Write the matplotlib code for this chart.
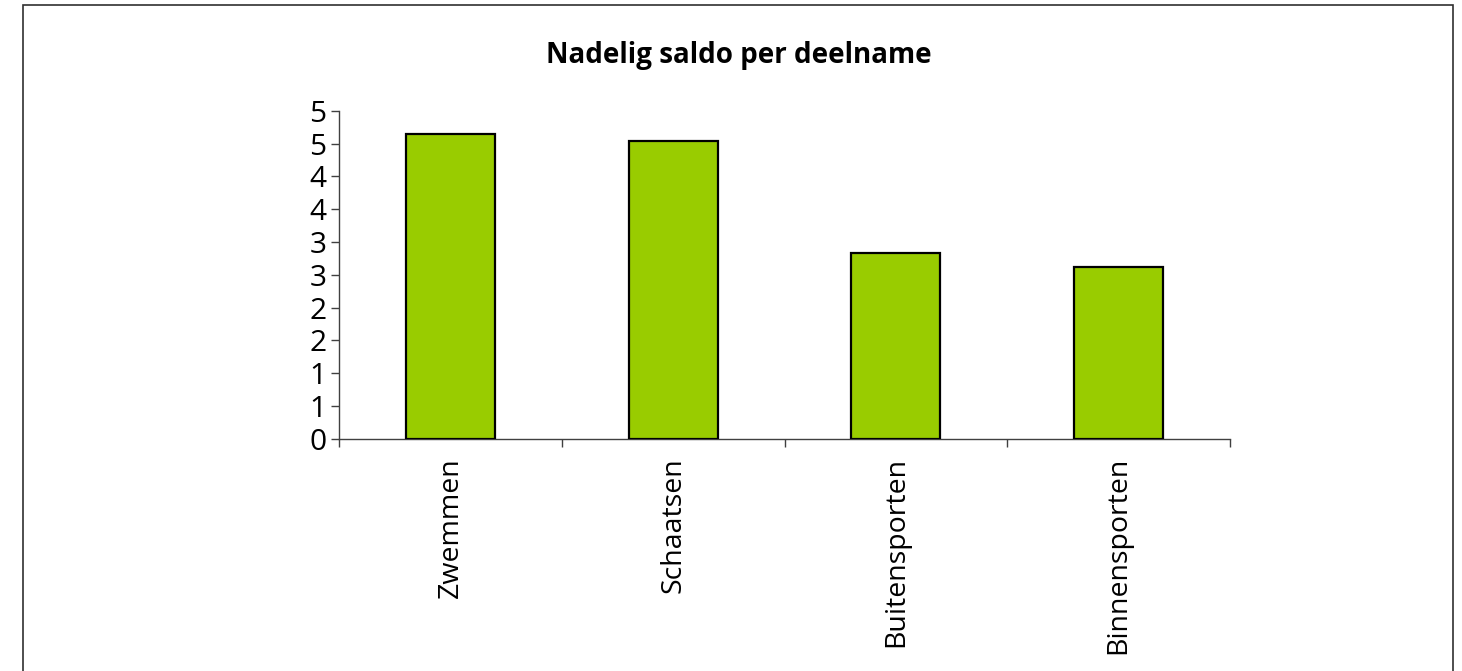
import matplotlib.pyplot as plt
import numpy as np
from matplotlib.patches import Rectangle
from matplotlib.ticker import FuncFormatter

plt.rcParams['font.family'] = ['Open Sans', 'DejaVu Sans']

categories = ["Zwemmen", "Schaatsen", "Buitensporten", "Binnensporten"]
values = [4.65, 4.54, 2.83, 2.62]
title = "Nadelig saldo per deelname"

fig = plt.figure(figsize=(14.62, 6.71), dpi=100)
ax = fig.add_axes([0.2319, 0.3462, 0.6094, 0.4888])

x = np.arange(len(categories))
ax.bar(x, values, width=0.4, color="#99CC00", edgecolor="black", linewidth=1.6, zorder=3)

ax.set_xlim(-0.5, len(categories) - 0.5)
ax.set_ylim(0, 5)
ax.set_yticks(np.arange(0, 5.01, 0.5))
# excel style "0" format: halves rounded up
ax.yaxis.set_major_formatter(FuncFormatter(lambda v, p: "%d" % int(v + 0.5)))

ax.set_xticks(np.arange(-0.5, len(categories), 1.0))
ax.set_xticklabels([])
ax.set_xticks(x, minor=True)
ax.set_xticklabels(categories, minor=True, rotation=90, va="top", ha="center")

for s in ["top", "right"]:
    ax.spines[s].set_visible(False)
for s in ["left", "bottom"]:
    ax.spines[s].set_color("#404040")
    ax.spines[s].set_linewidth(1.0)

ax.tick_params(axis="y", which="major", direction="out", length=6, width=1.0,
               color="#404040", labelsize=21.5, pad=3)
ax.tick_params(axis="x", which="major", direction="out", length=6, width=1.0, color="#404040")
ax.tick_params(axis="x", which="minor", length=0, labelsize=20.5, pad=13)

fig.text(739 / 1462, 1 - 55 / 671, title, ha="center", va="center",
         fontsize=20, fontweight="bold")

frame = Rectangle((23 / 1462, -0.05), (1453 - 23) / 1462, 1 - 5 / 671 + 0.05,
                  transform=fig.transFigure, fill=False, edgecolor="#303030",
                  linewidth=1.2, clip_on=False)
fig.patches.append(frame)

fig.savefig("out.png", dpi=100)
